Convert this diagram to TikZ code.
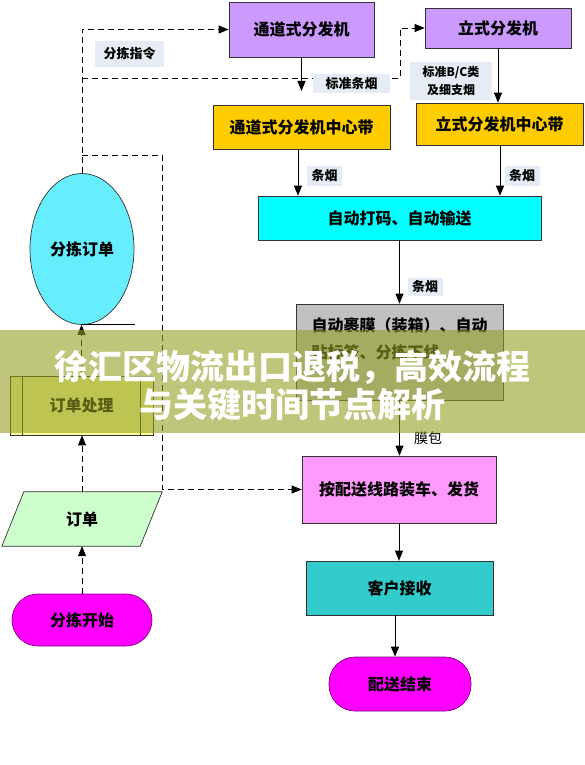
\documentclass[tikz,border=0pt]{standalone}
\usepackage{fontspec}
\newfontfamily\cjk{Noto Sans CJK SC}
\usetikzlibrary{arrows.meta,shapes.geometric,backgrounds}
\definecolor{lav}{HTML}{CC99FF}
\definecolor{ylw}{HTML}{FFCC00}
\definecolor{cyn}{HTML}{00FFFF}
\definecolor{gry}{HTML}{C0C0C0}
\definecolor{pnk}{HTML}{FF99FF}
\definecolor{tel}{HTML}{33CCCC}
\definecolor{mag}{HTML}{FF00FF}
\definecolor{purp}{HTML}{800080}
\definecolor{grn}{HTML}{CCFFCC}
\definecolor{ellc}{HTML}{66EEFF}
\definecolor{ddy}{HTML}{FFFF99}
\definecolor{labbg}{HTML}{E6ECF5}
\definecolor{ban}{HTML}{949E21}
\definecolor{edge}{HTML}{333333}
\begin{document}
\begin{tikzpicture}[x=1pt,y=-1pt,
  box/.style={draw=edge,line width=0.7pt,inner sep=0pt,align=center,
    font=\cjk\bfseries\fontsize{16}{19}\selectfont},
  lab/.style={fill=labbg,inner sep=0pt,align=center,
    font=\cjk\bfseries\fontsize{13}{15}\selectfont},
  arr/.style={-{Triangle[length=10pt,width=8pt]},line width=0.8pt},
  darr/.style={arr,dash pattern=on 6pt off 4pt}]
\useasboundingbox (0,0) rectangle (585,765);

% right column
\node[box,fill=lav,minimum width=145pt,minimum height=55pt] (tdf) at (301.5,29.5) {通道式分发机};
\node[box,fill=lav,minimum width=146pt,minimum height=40pt] (lsf) at (498,28) {立式分发机};
\node[box,fill=ylw,minimum width=177pt,minimum height=44pt] (tdc) at (301.5,127) {通道式分发机中心带};
\node[box,fill=ylw,minimum width=167pt,minimum height=42pt] (lsc) at (499.5,124) {立式分发机中心带};
\node[box,fill=cyn,minimum width=283pt,minimum height=44pt] (zd) at (399.5,218) {自动打码、自动输送};
\node[box,fill=gry,minimum width=207pt,minimum height=96pt,align=left,
  font=\cjk\bfseries\fontsize{16}{27}\selectfont] (gb) at (399.5,352)
  {自动裹膜（装箱）、自动\\贴标签、分拣下线\\\mbox{}};
\node[box,fill=pnk,minimum width=194pt,minimum height=67pt] (af) at (399,489.5) {按配送线路装车、发货};
\node[box,fill=tel,minimum width=187pt,minimum height=54pt] (kh) at (399.5,588) {客户接收};
\node[box,fill=mag,draw=purp,rounded corners=26pt,minimum width=142pt,minimum height=54pt] (fin) at (400,684) {配送结束};

% left column
\node[box,fill=ellc,ellipse,minimum width=104pt,minimum height=151pt] (ell) at (82,249) {分拣订单};
\node[box,fill=ddy,minimum width=143pt,minimum height=59pt] (ddcl) at (81.5,405.5) {订单处理};
\draw[edge,line width=0.7pt] ([xshift=13pt]ddcl.north west) -- ([xshift=13pt]ddcl.south west);
\draw[edge,line width=0.7pt] ([xshift=-13pt]ddcl.north east) -- ([xshift=-13pt]ddcl.south east);
\node[inner sep=0pt,minimum width=138pt,minimum height=54pt,
  font=\cjk\bfseries\fontsize{16}{19}\selectfont] (dd) at (82,519) {订单};
\begin{scope}[on background layer]
\draw[draw=edge,line width=0.7pt,fill=grn] ([xshift=11pt]dd.north west) -- ([xshift=11pt]dd.north east)
  -- ([xshift=-11pt]dd.south east) -- ([xshift=-11pt]dd.south west) -- cycle;
\end{scope}
\node[box,fill=mag,draw=purp,rounded corners=26pt,minimum width=140pt,minimum height=52pt] (st) at (82,620) {分拣开始};

% solid connectors
\coordinate (a1) at (301.5,91);
\draw[arr] (tdf.south) -- (a1);
\draw[arr] (lsf.south) -- (lsf.south |- lsc.north);
\draw[arr] ([xshift=-3.5pt]tdc.south) -- ([xshift=-3.5pt]tdc.south |- zd.north);
\draw[arr] ([xshift=0.5pt]lsc.south) -- ([xshift=0.5pt]lsc.south |- zd.north);
\draw[arr] (zd.south) -- (zd.south |- gb.north);
\draw[arr] (gb.south) -- (gb.south |- af.north);
\draw[arr] (af.south) -- (af.south |- kh.north);
\draw[arr] ([xshift=-4.5pt]kh.south) -- ([xshift=-4.5pt]kh.south |- fin.north);
\draw[line width=0.8pt] (ell.south) -- ++(53,0);

% dashed connectors
\draw[darr] (st.north) -- (dd.south);
\draw[darr] (dd.north) -- (dd.north |- ddcl.south);
\draw[darr] (ddcl.north) -- (ddcl.north |- ell.south);
\draw[darr] (ell.north) -- (ell.north |- tdf.west) -- (tdf.west);
\coordinate (j1) at (82,78);
\coordinate (k1) at (400,78);
\draw[darr] (j1) -- (k1) -- (k1 |- lsf.west) -- (lsf.west);
\coordinate (j2) at (82,155);
\coordinate (k2) at (162,155);
\draw[darr] (j2) -- (k2) -- (k2 |- af.west) -- (af.west);

% labels
\node[lab,minimum width=69pt,minimum height=26pt] (l1) at (129.5,54) {分拣指令};
\node[lab,minimum width=77pt,minimum height=19pt] (l2) at (351.5,83.5) {标准条烟};
\node[lab,minimum width=82pt,minimum height=38pt,font=\cjk\bfseries\fontsize{12}{18}\selectfont] (l3) at (451,81) {标准B/C类\\及细支烟};
\node[lab,minimum width=35pt,minimum height=20pt] (l4) at (324.5,176) {条烟};
\node[lab,minimum width=35pt,minimum height=20pt] (l5) at (522,176) {条烟};
\node[lab,minimum width=35pt,minimum height=18pt] (l6) at (425,286.5) {条烟};
\node[font=\cjk\fontsize{14}{16}\selectfont,inner sep=0pt] (l7) at (428,438) {膜包};

% banner
\fill[ban,opacity=0.6] (0,330) rectangle (585,433);
\node[font=\cjk\bfseries\fontsize{34}{38}\selectfont,text=white,inner sep=0pt] (t1) at (292,367) {徐汇区物流出口退税，高效流程};
\node[font=\cjk\bfseries\fontsize{34}{38}\selectfont,text=white,inner sep=0pt] (t2) at (292,405) {与关键时间节点解析};
\end{tikzpicture}
\end{document}
